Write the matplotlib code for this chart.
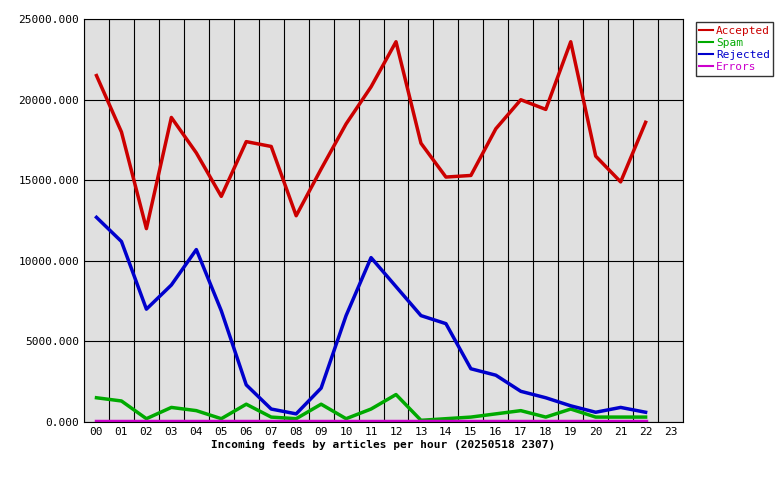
import matplotlib
matplotlib.use("Agg")
import matplotlib.pyplot as plt
import numpy as np

hours = ["%02d" % i for i in range(24)]
accepted = [21500,18000,12000,18900,16700,14000,17400,17100,12800,15700,18500,20800,23600,17300,15200,15300,18200,20000,19400,23600,16500,14900,18600]
spam = [1500,1300,200,900,700,200,1100,300,200,1100,200,800,1700,100,200,300,500,700,300,800,300,300,300]
rejected = [12700,11200,7000,8500,10700,6900,2300,800,500,2100,6600,10200,8400,6600,6100,3300,2900,1900,1500,1000,600,900,600]
errors = [50]*23

plt.rcParams['font.family'] = ['DejaVu Sans Mono']
fig = plt.figure(figsize=(7.8, 4.8), dpi=100)
ax = fig.add_axes([0.1077, 0.121, 0.768, 0.839])
ax.set_facecolor('#e0e0e0')
x = np.arange(len(accepted))
series = [(accepted, '#cc0000', 'Accepted'), (spam, '#00aa00', 'Spam'),
          (rejected, '#0000cc', 'Rejected'), (errors, '#cc00cc', 'Errors')]
lines = []
for vals, c, lab in series:
    l, = ax.plot(x, vals, color=c, lw=2.5, label=lab)
    lines.append(l)
ax.set_xlim(-0.5, 23.5)
ax.set_ylim(0, 25000)
ax.set_xticks(range(24))
ax.set_xticklabels(hours, fontsize=8)
ax.set_xticks(np.arange(-0.5, 24, 1), minor=True)
ax.set_yticks(range(0, 25001, 5000))
ax.set_yticklabels(["%d.000" % v for v in range(0, 25001, 5000)], fontsize=8)
ax.grid(True, which='minor', axis='x', color='black', lw=0.8)
ax.grid(True, which='major', axis='y', color='black', lw=0.8)
ax.tick_params(which='both', length=0)
ax.set_axisbelow(True)
ax.set_xlabel("Incoming feeds by articles per hour (20250518 2307)", fontsize=8, fontweight='bold', labelpad=2)
leg = fig.legend(handles=lines, loc='upper left', bbox_to_anchor=(0.885, 0.965),
                 fontsize=8, frameon=True, fancybox=False, edgecolor='black',
                 handlelength=1.2, borderpad=0.3, labelspacing=0.2, handletextpad=0.3)
for t, (_, c, _) in zip(leg.get_texts(), series):
    t.set_color(c)
for h in leg.legend_handles:
    h.set_linewidth(1.5)
fig.savefig("out.png", dpi=100)
